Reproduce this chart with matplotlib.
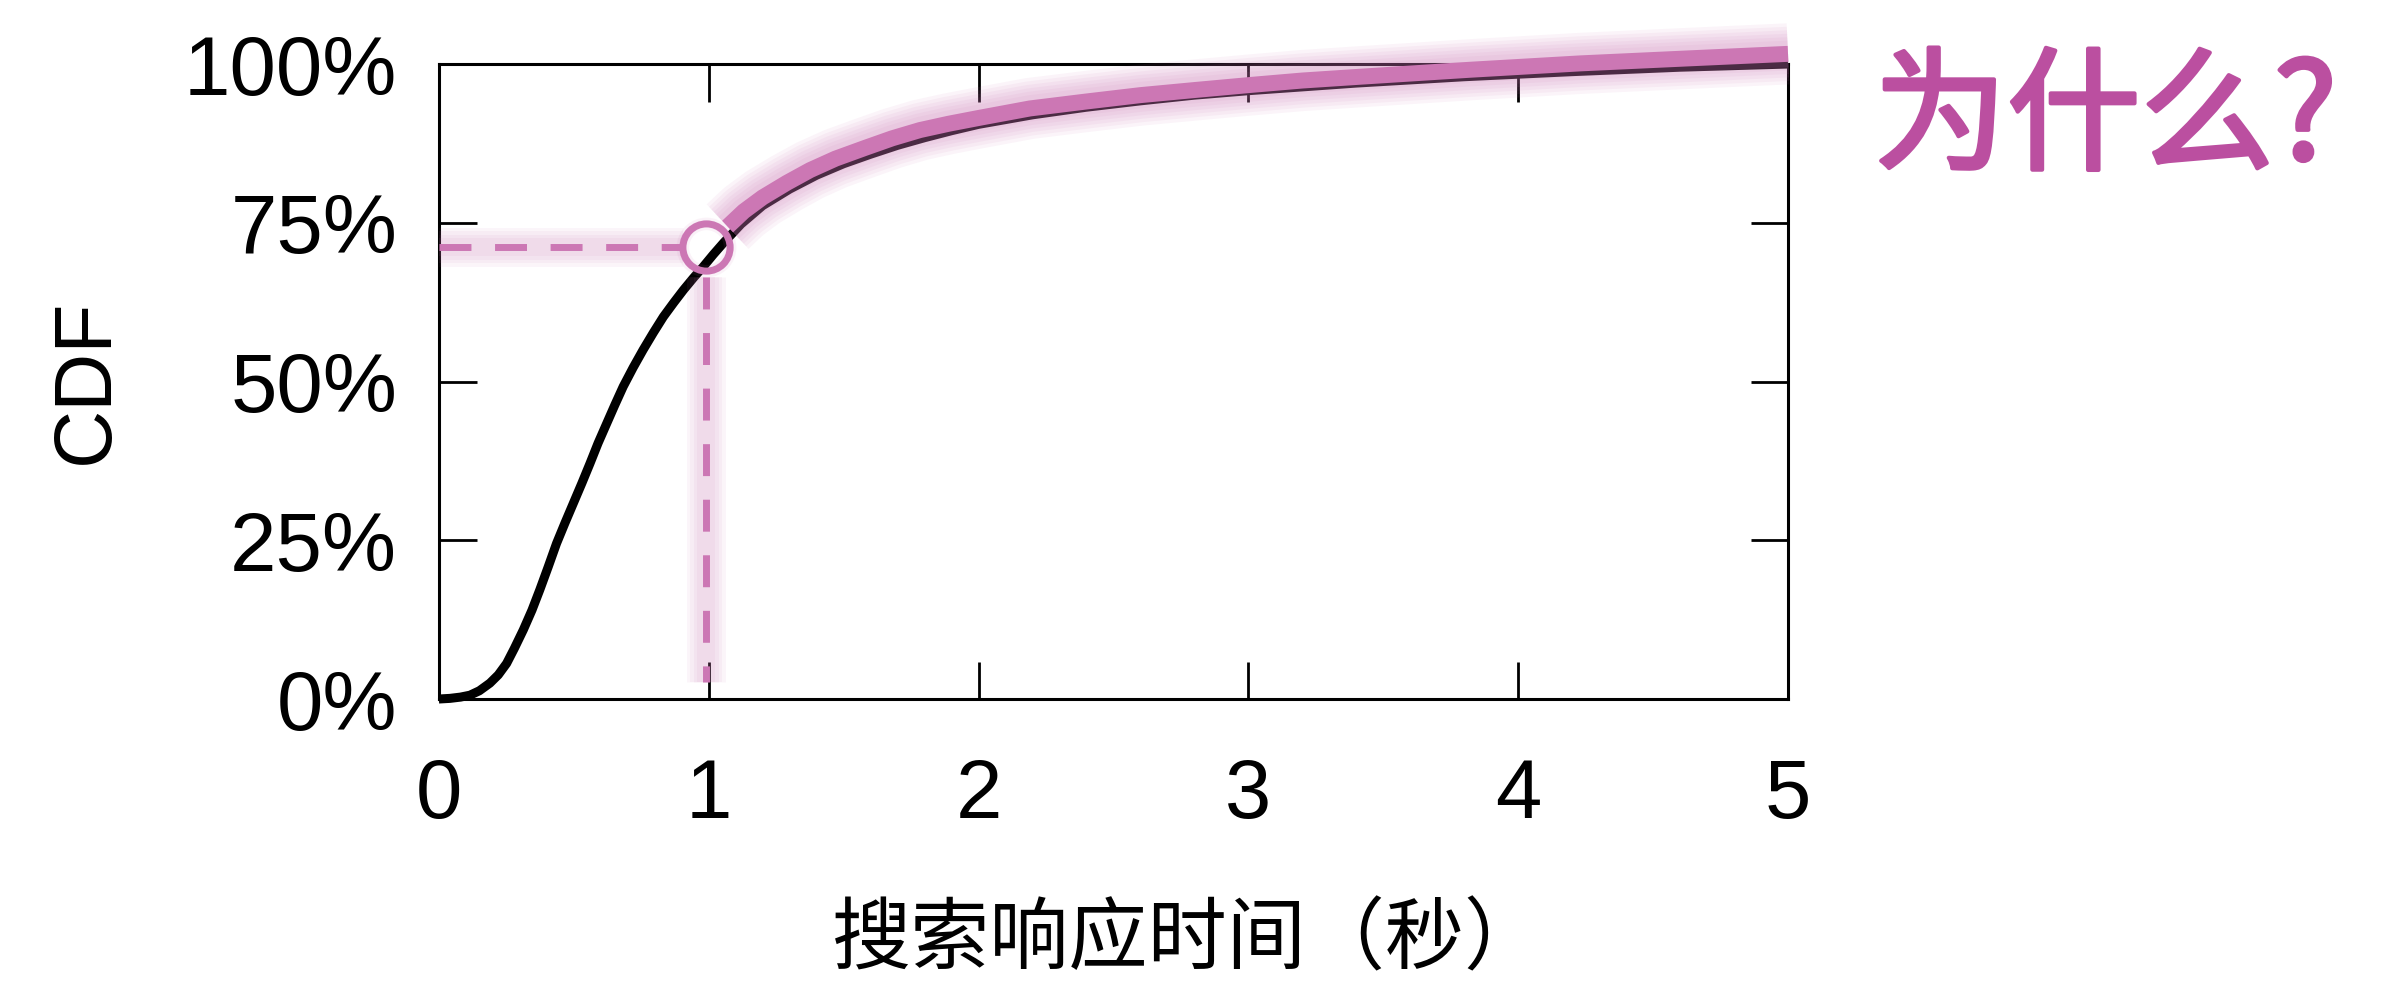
import matplotlib
matplotlib.use("Agg")
import matplotlib.pyplot as plt
import matplotlib.patheffects as pe

# CDF of search response time
black_x = [0, 0.041, 0.08, 0.115, 0.15, 0.189, 0.22, 0.251, 0.28, 0.313, 0.345, 0.374,
           0.405, 0.436, 0.467, 0.498, 0.53, 0.56, 0.59, 0.622, 0.652, 0.683, 0.72,
           0.757, 0.795, 0.832, 0.87, 0.906, 0.943, 0.98, 1.017, 1.054, 1.12, 1.2,
           1.3, 1.4, 1.5, 1.6, 1.7, 1.8, 1.9, 2.0, 2.2, 2.4, 2.6, 2.8, 3.0, 3.4,
           3.8, 4.2, 4.6, 5.0]
black_y = [0, 0.001, 0.003, 0.006, 0.013, 0.025, 0.038, 0.056, 0.08, 0.109, 0.14, 0.172,
           0.208, 0.245, 0.277, 0.308, 0.34, 0.371, 0.403, 0.434, 0.463, 0.492, 0.522,
           0.55, 0.577, 0.602, 0.624, 0.644, 0.663, 0.681, 0.70, 0.718, 0.748, 0.777,
           0.803, 0.825, 0.843, 0.858, 0.872, 0.884, 0.895, 0.905, 0.920, 0.932,
           0.942, 0.951, 0.958, 0.970, 0.980, 0.988, 0.995, 1.0]

# highlighted tail
pink_x = [1.07, 1.13, 1.2, 1.29, 1.376, 1.47, 1.58, 1.68, 1.783, 1.89, 2.0, 2.19, 2.4,
          2.6, 2.8, 3.007, 3.2, 3.415, 3.823, 4.23, 4.638, 5.0]
pink_y = [0.744, 0.768, 0.79, 0.813, 0.833, 0.851, 0.868, 0.883, 0.896, 0.906, 0.915,
          0.93, 0.941, 0.951, 0.959, 0.967, 0.974, 0.98, 0.991, 1.001, 1.009, 1.016]

mark_x, mark_y = 0.99, 0.712

x_ticks = [0, 1, 2, 3, 4, 5]
y_ticks = [0, 0.25, 0.5, 0.75, 1.0]
y_ticklabels = ["0%", "25%", "50%", "75%", "100%"]

pink = "#cc77b4"
latin = ["Liberation Sans", "DejaVu Sans"]
cjk = ["Noto Sans CJK SC", "DejaVu Sans"]

plt.rcParams["font.family"] = latin

fig = plt.figure(figsize=(23.84, 9.88), dpi=100)
ax = fig.add_axes([0.1841, 0.2925, 0.5659, 0.6427])

ax.plot(black_x, black_y, color="black", lw=6.5, zorder=3, clip_on=False,
        solid_capstyle="butt", solid_joinstyle="round")

# soft glow: many faint strokes
glow = [pe.Stroke(linewidth=w, foreground=pink, alpha=0.08) for w in (44, 39, 34, 29, 24, 19)]
glow.append(pe.Normal())

# dashed guide lines with soft glow
hx = [0, 0.905]
hy = [mark_y, mark_y]
vx = [0.99, 0.99]
vy = [0.665, 0.027]
for xs, ys in [(hx, hy), (vx, vy)]:
    for w in (28, 23, 18, 13):
        ax.plot(xs, ys, color=pink, lw=w, alpha=0.07, zorder=3.5, clip_on=False,
                solid_capstyle="butt")
    ax.plot(xs, ys, color=pink, lw=5, ls=(0, (4.6, 3.4)), zorder=4, clip_on=False,
            dash_capstyle="butt")

ax.plot(pink_x, pink_y, color=pink, lw=11.5, zorder=5, clip_on=False,
        solid_capstyle="butt", solid_joinstyle="round", path_effects=glow)

for w in (52, 45):
    ax.plot([mark_x], [mark_y], marker="o", ms=34, mfc="none", mec=pink,
            mew=(w - 34) / 2, alpha=0.09, zorder=5.5, clip_on=False)
ax.plot([mark_x], [mark_y], marker="o", ms=34, mfc="none", mec=pink, mew=5,
        zorder=6, clip_on=False)

ax.set_xlim(0, 5)
ax.set_ylim(0, 1)
ax.set_xticks(x_ticks)
ax.set_yticks(y_ticks)
ax.set_yticklabels(y_ticklabels)
ax.tick_params(direction="in", length=27, width=2, top=True, right=True,
               labelsize=60, color="black")
ax.tick_params(axis="y", pad=30)
ax.tick_params(axis="x", pad=42)
for s in ax.spines.values():
    s.set_linewidth(2.2)

ax.set_ylabel("CDF", fontsize=58)
ax.yaxis.set_label_coords(-0.233, 0.5)
ax.set_xlabel("搜索响应时间（秒）", fontsize=57, family=cjk)
ax.xaxis.set_label_coords(0.555, -0.317)

fig.text(0.786, 0.877, "为什么?", fontsize=96, color="#bb4fa0",
         family=cjk, ha="left", va="center",
         path_effects=[pe.withStroke(linewidth=3, foreground="#bb4fa0")])

fig.savefig("out.png", dpi=100, facecolor="white")
